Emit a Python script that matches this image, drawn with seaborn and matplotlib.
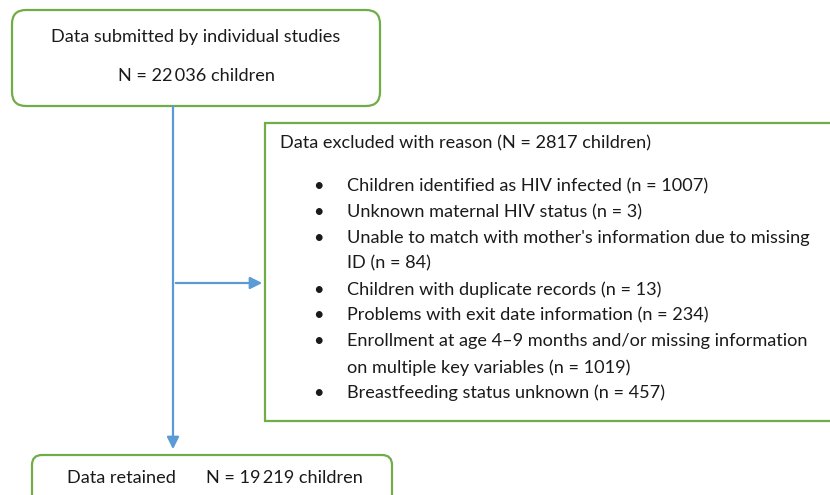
import matplotlib
matplotlib.use("Agg")
import matplotlib.pyplot as plt
import seaborn as sns
from matplotlib.patches import FancyBboxPatch, Rectangle

sns.set_theme(style="white")
plt.rcParams['font.family'] = ['Lato', 'DejaVu Sans']

# Contenu du diagramme
top_lines = ["Data submitted by individual studies", "N = 22\u2009036 children"]
excl_title = "Data excluded with reason (N = 2817 children)"
excl_items = [
    ["Children identified as HIV infected (n = 1007)"],
    ["Unknown maternal HIV status (n = 3)"],
    ["Unable to match with mother's information due to missing", "ID (n = 84)"],
    ["Children with duplicate records (n = 13)"],
    ["Problems with exit date information (n = 234)"],
    ["Enrollment at age 4\u20139 months and/or missing information",
     "on multiple key variables (n = 1019)"],
    ["Breastfeeding status unknown (n = 457)"],
]
retained_label = "Data retained"
retained_n = "N = 19\u2009219 children"

green = "#70ad47"
blue = "#5b9bd5"
txt = "#1a1a1a"
fs = 13.1

fig = plt.figure(figsize=(8.3, 4.95), dpi=100)
ax = fig.add_axes([0, 0, 1, 1])
ax.set_xlim(0, 830)
ax.set_ylim(495, 0)
ax.axis("off")

# Boite du haut
ax.add_patch(FancyBboxPatch((12, 10), 368, 96, boxstyle="round,pad=0,rounding_size=14",
                            fc="white", ec=green, lw=1.6))
ax.text(196, 37, top_lines[0], ha="center", va="center", fontsize=fs, color=txt)
ax.text(196, 76, top_lines[1], ha="center", va="center", fontsize=fs, color=txt)

# Boite des exclusions (coupee a droite)
ax.add_patch(Rectangle((265, 123), 600, 298, fc="white", ec=green, lw=1.6, clip_on=True))
ax.text(280, 143, excl_title, ha="left", va="center", fontsize=fs, color=txt)
y = 186
step = 25.9
for item in excl_items:
    ax.text(318, y, "\u2022", ha="center", va="center", fontsize=fs, color=txt)
    for line in item:
        ax.text(347, y, line, ha="left", va="center", fontsize=fs, color=txt)
        y += step

# Fleches
ax.plot([173, 173], [106, 440], color=blue, lw=1.6)
ax.annotate("", xy=(173, 452), xytext=(173, 435),
            arrowprops=dict(arrowstyle="-|>,head_length=0.6,head_width=0.3", color=blue, lw=1.6))
ax.annotate("", xy=(265, 283), xytext=(173, 283),
            arrowprops=dict(arrowstyle="-|>,head_length=0.6,head_width=0.3", color=blue, lw=1.6))

# Boite du bas (coupee en bas)
ax.add_patch(FancyBboxPatch((32, 455), 360, 80, boxstyle="round,pad=0,rounding_size=10",
                            fc="white", ec=green, lw=1.6))
ax.text(67, 478, retained_label, ha="left", va="center", fontsize=fs, color=txt)
ax.text(206, 478, retained_n, ha="left", va="center", fontsize=fs, color=txt)

fig.savefig("out.png", dpi=100)
